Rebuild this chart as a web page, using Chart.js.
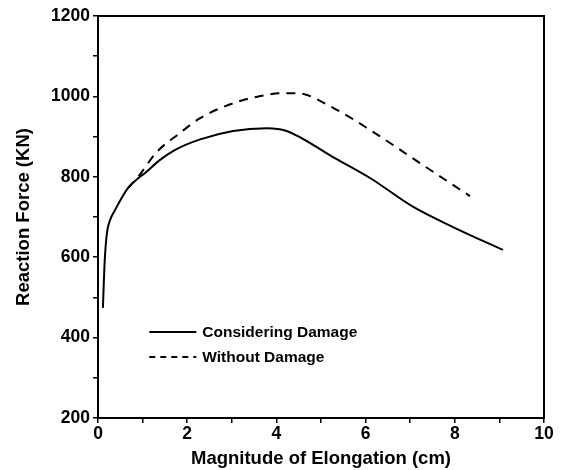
<!DOCTYPE html>
<html>
<head>
<meta charset="utf-8">
<script src="https://cdn.jsdelivr.net/npm/chart.js@4.4.1/dist/chart.umd.min.js"></script>
<style>
  body { margin: 0; background: #fff; }
  #wrap { width: 564px; height: 470px; }
</style>
</head>
<body>
<div id="wrap"><canvas id="chart"></canvas></div>
<script>
// values
const damageX = [0.11, 0.15, 0.2, 0.27, 0.38, 0.67, 0.94, 1.05, 1.39, 1.73, 2.29, 3.03, 3.78, 4.23, 5.27, 6.1, 7.07, 7.96, 9.08];
const damageY = [474, 590, 660, 692, 717, 772, 800, 809, 842, 867, 893, 914, 921, 914, 849, 797, 725, 675, 618];

const noDamageX = [0.67, 0.9, 1.32, 1.84, 2.29, 3.11, 3.6, 4.15, 4.46, 5.28, 6.15, 7.22, 8.34];
const noDamageY = [772, 800, 862, 909, 946, 986, 1000, 1008, 1008, 971, 913, 834, 752];

const seriesNames = ['Considering Damage', 'Without Damage'];
const fontFam = '"Liberation Sans", Arial, sans-serif';

function pts(xs, ys) {
  return xs.map((x, i) => ({ x: x, y: ys[i] }));
}

// frame round the plot
const frame = {
  id: 'frame',
  afterDraw(chart) {
    const a = chart.chartArea;
    const c = chart.ctx;
    c.save();
    c.strokeStyle = '#000';
    c.lineWidth = 2;
    c.strokeRect(a.left, a.top, a.right - a.left, a.bottom - a.top);
    c.restore();
  }
};

// legend inside the plot, lower left
const innerLegend = {
  id: 'innerLegend',
  afterDraw(chart) {
    const a = chart.chartArea;
    const c = chart.ctx;
    const x0 = a.left + (a.right - a.left) * 0.115;
    const len = 47;
    let y = a.top + (a.bottom - a.top) * 0.786;
    c.save();
    c.font = 'bold 15.5px ' + fontFam;
    c.textBaseline = 'middle';
    c.fillStyle = '#000';
    chart.data.datasets.forEach((ds) => {
      c.strokeStyle = '#000';
      c.lineWidth = 2;
      c.setLineDash(ds.borderDash && ds.borderDash.length ? [6, 5] : []);
      c.beginPath();
      c.moveTo(x0, y);
      c.lineTo(x0 + len, y);
      c.stroke();
      c.setLineDash([]);
      c.fillText(ds.label, x0 + len + 6, y + 1);
      y += 25;
    });
    c.restore();
  }
};

new Chart(document.getElementById('chart'), {
  type: 'scatter',
  data: {
    datasets: [
      {
        label: seriesNames[0],
        data: pts(damageX, damageY),
        showLine: true,
        borderColor: '#000',
        borderWidth: 2,
        pointRadius: 0,
        cubicInterpolationMode: 'monotone'
      },
      {
        label: seriesNames[1],
        data: pts(noDamageX, noDamageY),
        showLine: true,
        borderColor: '#000',
        borderWidth: 2,
        borderDash: [9, 7],
        pointRadius: 0,
        cubicInterpolationMode: 'monotone'
      }
    ]
  },
  options: {
    responsive: true,
    maintainAspectRatio: false,
    animation: false,
    layout: { padding: { left: 13, top: 16, right: 20, bottom: 0 } },
    plugins: {
      legend: { display: false },
      tooltip: { enabled: false }
    },
    scales: {
      x: {
        type: 'linear',
        min: 0,
        max: 10,
        afterFit(scale) { scale.height = 52; },
        ticks: {
          stepSize: 1,
          color: '#000',
          padding: 1,
          maxRotation: 0,
          font: { family: fontFam, size: 17.5, weight: 'bold' },
          callback: (v) => (v % 2 === 0 ? v : '')
        },
        grid: { drawOnChartArea: false, color: '#000', tickLength: 5, lineWidth: 1.5 },
        border: { color: '#000', width: 2 },
        title: {
          display: true,
          text: 'Magnitude of Elongation (cm)',
          color: '#000',
          padding: { top: 0, bottom: 0 },
          font: { family: fontFam, size: 18.5, weight: 'bold' }
        }
      },
      y: {
        min: 200,
        max: 1200,
        afterFit(scale) { scale.width = 85; },
        ticks: {
          stepSize: 100,
          color: '#000',
          padding: 3,
          font: { family: fontFam, size: 17.5, weight: 'bold' },
          callback: (v) => (v % 200 === 0 ? v : '')
        },
        grid: { drawOnChartArea: false, color: '#000', tickLength: 5, lineWidth: 1.5 },
        border: { color: '#000', width: 2 },
        title: {
          display: true,
          text: 'Reaction Force (KN)',
          color: '#000',
          padding: { top: 0, bottom: 4 },
          font: { family: fontFam, size: 18.5, weight: 'bold' }
        }
      }
    }
  },
  plugins: [frame, innerLegend]
});
</script>
</body>
</html>
